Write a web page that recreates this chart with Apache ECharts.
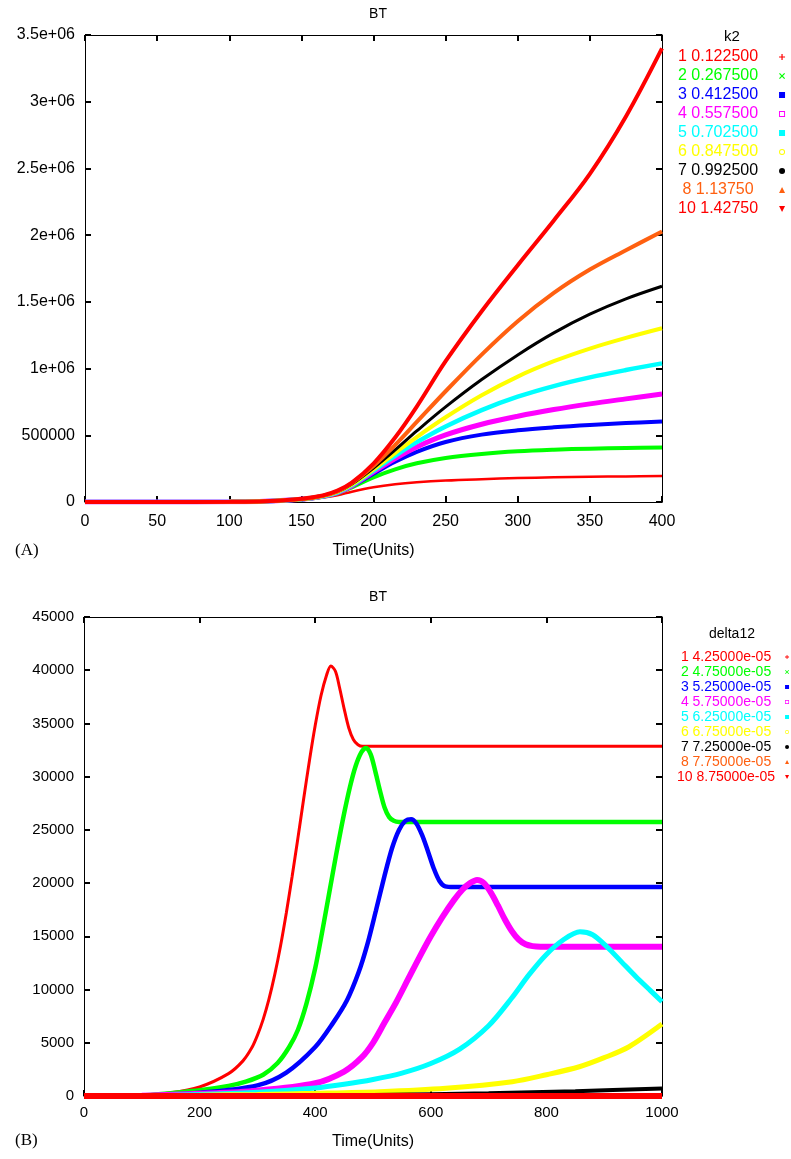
<!DOCTYPE html>
<html>
<head>
<meta charset="utf-8">
<script src="https://cdn.jsdelivr.net/npm/echarts@6/dist/echarts.min.js"></script>
<style>
html,body{margin:0;padding:0;background:#fff;}
#chart{width:791px;height:1159px;}
</style>
</head>
<body>
<div id="chart"></div>
<script>
// ---------- Panel A: BT vs time for several k2 ----------
const timesA = [0, 50, 100, 125, 150, 165, 175, 185, 200, 215, 230, 250, 275, 300, 325, 350, 375, 400];
const namesA = ['1 0.122500','2 0.267500','3 0.412500','4 0.557500','5 0.702500','6 0.847500','7 0.992500','8 1.13750','10 1.42750'];
const a1  = [0,300,1800,5500,18000,33000,50000,77000,110000,133000,148000,161000,171000,179000,185000,189000,192000,195000];
const a2  = [0,300,1800,5500,19000,40000,65000,110000,185000,245000,290000,330000,360000,380000,392000,400000,405000,408000];
const a3  = [0,300,1800,5500,19500,41000,68000,118000,211000,301000,376000,450000,505000,537500,560000,577500,591500,603000];
const a4  = [0,300,1800,5500,20000,42000,70000,122000,225500,326000,413000,503000,583000,643000,693000,735500,773000,809000];
const a5  = [0,300,1800,5500,20000,43000,72000,126000,235500,346500,448500,566500,689000,789000,869000,934000,989000,1039000];
const a6  = [0,300,1800,5500,20500,44000,75000,130000,244000,367000,487000,635000,800000,940000,1055000,1150000,1230000,1302000];
const a7  = [0,300,1800,5500,21000,45000,77000,135000,255000,390000,532500,712500,917500,1102500,1267500,1407500,1522500,1617000];
const a8  = [0,300,1800,5500,21500,47000,80000,142000,270000,427000,600000,830000,1105000,1355000,1567000,1742000,1887000,2027000];
const a10 = [0,300,1800,6000,25000,50000,85000,145000,288000,483000,715000,1055000,1430000,1775000,2110000,2460000,2890000,3400000];
const xTicksA = ['0','50','100','150','200','250','300','350','400'];
const yTicksA = ['0','500000','1e+06','1.5e+06','2e+06','2.5e+06','3e+06','3.5e+06'];

// ---------- Panel B: BT vs time for several delta12 ----------
const namesB = ['1 4.25000e-05','2 4.75000e-05','3 5.25000e-05','4 5.75000e-05','5 6.25000e-05','6 6.75000e-05','7 7.25000e-05','8 7.75000e-05','10 8.75000e-05'];
const tB1 = [0,100,150,200,250,275,290,300,310,320,330,340,350,360,370,380,390,400,410,420,427,435,442,450,458,466,474,482,500,1000];
const vB1 = [0,100,300,850,2100,3300,4500,5700,7200,9100,11400,14100,17200,20600,24200,27900,31500,34800,37600,39600,40400,39900,38400,36400,34600,33500,33000,32850,32850,32850];
const tB2 = [0,100,200,250,280,310,335,355,370,385,400,412,424,436,448,460,470,480,488,496,504,512,520,528,536,545,560,1000];
const vB2 = [0,50,550,950,1350,2000,3100,4600,6200,8700,12000,15400,19000,22600,26000,29000,31000,32300,32700,32100,30500,28700,27100,26200,25850,25750,25750,25750];
const tB3 = [0,100,200,300,350,400,430,455,475,490,505,520,533,545,556,566,575,585,595,605,615,625,640,1000];
const vB3 = [0,30,300,1000,2200,4600,6800,9000,11600,14200,17400,20700,23300,25000,25850,26000,25600,24500,23000,21400,20200,19700,19640,19640];
const tB4 = [0,100,200,300,400,450,480,500,520,540,560,580,600,620,640,655,668,680,692,704,716,728,740,752,764,776,790,1000];
const vB4 = [0,20,200,500,1200,2300,3600,5000,6900,8800,10900,13000,15000,16800,18400,19400,20000,20300,20000,19100,17900,16600,15500,14700,14250,14080,14030,14030];
const tB5 = [0,100,200,300,400,450,500,550,600,650,700,740,770,800,830,858,880,905,930,955,980,1000];
const vB5 = [0,20,150,350,750,1100,1550,2150,3050,4400,6600,9200,11400,13300,14700,15430,15150,14000,12600,11200,9900,8860];
const tB6 = [0,200,300,400,511,626,741,800,857,900,943,1000];
const vB6 = [0,80,150,250,400,720,1340,2000,2750,3600,4630,6760];
const tB7 = [0,300,500,700,850,1000];
const vB7 = [0,30,100,250,450,700];
const tB8 = [0,1000];
const vB8 = [0,0];
const tB10 = [0,1000];
const vB10 = [0,0];
const xTicksB = ['0','200','400','600','800','1000'];
const yTicksB = ['0','5000','10000','15000','20000','25000','30000','35000','40000','45000'];

// ---------- styling ----------
const colors = ['#ff0000','#00ff00','#0000ff','#ff00ff','#00ffff','#ffff00','#000000','#ff6010','#ff0000'];
const widthsA = [2.5,4,4,5,4.5,4,3,4,4];
const widthsB = [3,4.5,4.5,6,5,5,4,5,6];
// legend icons: 10x10 marker shifted right by o inside the icon box (tiny anchor at x=0 keeps the box)
function makeIcons(o){
  const A = 'M0,5L0.02,5L0,5.02Z';
  const shapes = [
    `M${o+4},0h2v4h4v2h-4v4h-2v-4h-4v-2h4z`,
    `M${o},1.4L${o+1.4},0L${o+5},3.6L${o+8.6},0L${o+10},1.4L${o+6.4},5L${o+10},8.6L${o+8.6},10L${o+5},6.4L${o+1.4},10L${o},8.6L${o+3.6},5z`,
    `M${o},0H${o+10}V10H${o}Z`,
    `M${o},0H${o+10}V10H${o}Z M${o+1.6},1.6V8.4H${o+8.4}V1.6Z`,
    `M${o},0H${o+10}V10H${o}Z`,
    `M${o},5A5,5 0 1,0 ${o+10},5A5,5 0 1,0 ${o},5Z M${o+1.6},5A3.4,3.4 0 1,1 ${o+8.4},5A3.4,3.4 0 1,1 ${o+1.6},5Z`,
    `M${o},5A5,5 0 1,0 ${o+10},5A5,5 0 1,0 ${o},5Z`,
    `M${o+5},0L${o+10},10L${o},10Z`,
    `M${o},0L${o+10},0L${o+5},10Z`
  ];
  return shapes.map(s => 'path://' + A + s);
}
const FONT = 'Liberation Sans, Arial, sans-serif';

function zip(t, v){ return t.map((x,i)=>[x, v[i]]); }
const seriesDataA = [a1,a2,a3,a4,a5,a6,a7,a8,a10].map(v => zip(timesA, v));
const seriesDataB = [zip(tB1,vB1),zip(tB2,vB2),zip(tB3,vB3),zip(tB4,vB4),zip(tB5,vB5),zip(tB6,vB6),zip(tB7,vB7),zip(tB8,vB8),zip(tB10,vB10)];

const tickStyle = {show:true, inside:true, length:6, lineStyle:{color:'#000', width:2}};
function xAx(grid, max, interval, labels, margin, nameGap, fs){
  return [{
    gridIndex:grid, type:'value', min:0, max:max, interval:interval, position:'bottom',
    axisLine:{show:true, onZero:false, lineStyle:{color:'#000', width:1}},
    axisTick:tickStyle,
    axisLabel:{margin:margin, fontSize:fs, fontFamily:FONT, color:'#000',
      formatter:(v)=>labels[Math.round(v/interval)]},
    splitLine:{show:false},
    name:'Time(Units)', nameLocation:'middle', nameGap:nameGap,
    nameTextStyle:{fontSize:16, fontFamily:FONT, color:'#000'}
  },{
    gridIndex:grid, type:'value', min:0, max:max, interval:interval, position:'top',
    axisLine:{show:true, onZero:false, lineStyle:{color:'#000', width:1}},
    axisTick:tickStyle,
    axisLabel:{show:false}, splitLine:{show:false}
  }];
}
function yAx(grid, max, interval, labels, fs){
  return [{
    gridIndex:grid, type:'value', min:0, max:max, interval:interval, position:'left',
    axisLine:{show:true, onZero:false, lineStyle:{color:'#000', width:1}},
    axisTick:tickStyle,
    axisLabel:{margin:10, fontSize:fs, fontFamily:FONT, color:'#000',
      formatter:(v)=>labels[Math.round(v/interval)]},
    splitLine:{show:false}
  },{
    gridIndex:grid, type:'value', min:0, max:max, interval:interval, position:'right',
    axisLine:{show:true, onZero:false, lineStyle:{color:'#000', width:1}},
    axisTick:tickStyle,
    axisLabel:{show:false}, splitLine:{show:false}
  }];
}

const series = [];
namesA.forEach((n,i)=>{
  series.push({type:'line', name:n, xAxisIndex:0, yAxisIndex:0, data:seriesDataA[i],
    smooth:0.35, showSymbol:false, symbol:'none', animation:false,
    lineStyle:{color:colors[i], width:widthsA[i]}, itemStyle:{color:colors[i]}, z:10+i});
});
namesB.forEach((n,i)=>{
  series.push({type:'line', name:n, xAxisIndex:2, yAxisIndex:2, data:seriesDataB[i],
    smooth:0.3, showSymbol:false, symbol:'none', animation:false,
    lineStyle:{color:colors[i], width:widthsB[i]}, itemStyle:{color:colors[i]}, z:10+i});
});

function legend(names, top, fontSize, gap, left, w, icons, iw, ih){
  return {
    orient:'vertical', left:left, top:top, align:'right', itemGap:gap,
    itemWidth:iw, itemHeight:ih, selectedMode:false,
    formatter:(name)=>'{c|' + name + '}',
    data:names.map((n,i)=>({name:n, icon:icons[i], itemStyle:{color:colors[i]},
      textStyle:{color:colors[i], fontSize:fontSize, fontFamily:FONT,
        rich:{c:{width:w, align:'center', color:colors[i], fontSize:fontSize, fontFamily:FONT}}}})),
    textStyle:{fontSize:fontSize, fontFamily:FONT}
  };
}

const option = {
  backgroundColor:'#fff',
  animation:false,
  title:[
    {text:'BT', left:373, top:2, textAlign:'center', textStyle:{fontSize:14, fontWeight:'normal', fontFamily:FONT, color:'#000'}},
    {text:'BT', left:373, top:585, textAlign:'center', textStyle:{fontSize:14, fontWeight:'normal', fontFamily:FONT, color:'#000'}},
    {text:'k2', left:727, top:24, textAlign:'center', textStyle:{fontSize:15, fontWeight:'normal', fontFamily:FONT, color:'#000'}},
    {text:'delta12', left:727, top:622, textAlign:'center', textStyle:{fontSize:14, fontWeight:'normal', fontFamily:FONT, color:'#000'}},
    {text:'(A)', left:10, top:537, textStyle:{fontSize:17, fontWeight:'normal', fontFamily:'Liberation Serif, Times New Roman, serif', color:'#000'}},
    {text:'(B)', left:10, top:1127, textStyle:{fontSize:17, fontWeight:'normal', fontFamily:'Liberation Serif, Times New Roman, serif', color:'#000'}}
  ],
  grid:[
    {left:85, top:35, width:577, height:467, show:false},
    {left:84, top:617, width:578, height:479, show:false}
  ],
  xAxis:[...xAx(0,400,50,xTicksA,12,41,16), ...xAx(1,1000,200,xTicksB,9,38,15)],
  yAxis:[...yAx(0,3500000,500000,yTicksA,16), ...yAx(1,45000,5000,yTicksB,15)],
  legend:[
    legend(namesA, 44, 16, 3, 673, 88, makeIcons(20), 18, 6),
    legend(namesB, 645, 14, 1, 672, 100, makeIcons(10), 8, 4)
  ],
  series:series
};

const chart = echarts.init(document.getElementById('chart'), null, {renderer:'canvas'});
chart.setOption(option);
</script>
</body>
</html>
